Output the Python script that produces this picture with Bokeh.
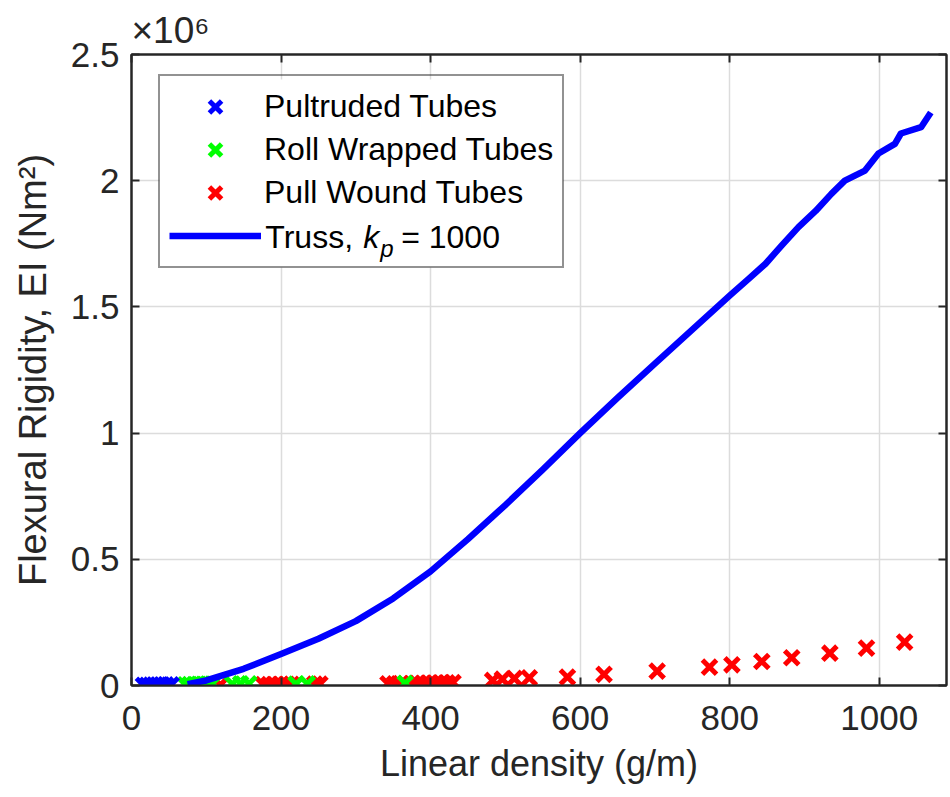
import numpy as np
from bokeh.plotting import figure
from bokeh.models import (Range1d, LinearAxis, Label, Legend, LegendItem, Title,
                          BoxAnnotation, FixedTicker, CustomJSTickFormatter,
                          CustomLabelingPolicy)
from bokeh.embed import file_html
from bokeh.resources import INLINE

# ---------------- data (EI in units of 1e6 N m^2) ----------------
pultruded_x = [16, 21, 26, 31, 36, 41, 46, 53]
pultruded_EI = [0.0008, 0.001, 0.0012, 0.0014, 0.0016, 0.0019, 0.0022, 0.0026]

rollwrap_x = [72, 78, 84, 90, 96, 102, 108, 135, 146, 157, 220, 235, 366]
rollwrap_EI = [0.003, 0.0035, 0.004, 0.0045, 0.005, 0.0055, 0.006, 0.006,
               0.0065, 0.007, 0.006, 0.007, 0.009]

pullwound_x = [119, 176, 184, 192, 200, 208, 214, 245, 252, 343, 352, 360, 375,
               382, 390, 398, 406, 414, 422, 430, 483, 496, 512, 532, 583, 632,
               703, 773, 803, 843, 883, 934, 983, 1034]
pullwound_EI = [0.003, 0.004, 0.004, 0.004, 0.005, 0.005, 0.005, 0.006, 0.006,
                0.007, 0.007, 0.008, 0.008, 0.009, 0.009, 0.01, 0.01, 0.011,
                0.011, 0.012, 0.02, 0.025, 0.028, 0.03, 0.033, 0.044, 0.057,
                0.073, 0.082, 0.095, 0.11, 0.128, 0.148, 0.172]

truss_x = [75, 100, 150, 200, 250, 300, 350, 400, 450, 500, 550, 600, 650, 700,
           750, 800, 825, 848, 870, 892, 915, 936, 954, 981, 999, 1021, 1029,
           1056, 1069]
truss_EI = [0.005, 0.02, 0.066, 0.125, 0.185, 0.255, 0.345, 0.452, 0.58, 0.715,
            0.855, 1.0, 1.14, 1.275, 1.41, 1.545, 1.61, 1.671, 1.745, 1.816,
            1.88, 1.948, 2.0, 2.04, 2.108, 2.146, 2.187, 2.212, 2.27]

x_ticks = [0, 200, 400, 600, 800, 1000]
y_ticks = [0, 0.5, 1, 1.5, 2, 2.5]

# ---------------- layout ----------------
W, H = 950, 797
FL, FR, FT, FB = 131, 947, 54, 685
X0, X1, Y0, Y1 = 0, 1090, 0, 2.5
FONT = "Liberation Sans"
DARK = "#262626"


def px2x(px):
    return X0 + (px - FL) * (X1 - X0) / (FR - FL)


def py2y(py):
    return Y0 + (FB - py) * (Y1 - Y0) / (FB - FT)


p = figure(width=W, height=H, x_range=Range1d(X0, X1), y_range=Range1d(Y0, Y1),
           output_backend="svg", toolbar_location=None, title=None,
           min_border_left=FL, min_border_right=W - FR,
           min_border_top=FT, min_border_bottom=H - FB)
p.background_fill_color = "white"
p.outline_line_color = DARK
p.outline_line_width = 2

for ax in (p.xaxis[0], p.yaxis[0]):
    ax.axis_line_color = DARK
    ax.axis_line_width = 2
    ax.major_tick_line_color = DARK
    ax.major_tick_line_width = 2
    ax.major_tick_in = 8
    ax.major_tick_out = 0
    ax.minor_tick_line_color = None
    ax.major_label_text_font = FONT
    ax.major_label_text_font_size = "35px"
    ax.major_label_text_color = DARK
    ax.axis_label_text_font = FONT
    ax.axis_label_text_font_style = "normal"
    ax.axis_label_text_color = DARK

p.xaxis[0].ticker = FixedTicker(ticks=x_ticks)
p.yaxis[0].ticker = FixedTicker(ticks=y_ticks)
p.yaxis[0].formatter = CustomJSTickFormatter(code="return tick.toString();")
p.xaxis[0].major_label_standoff = 20
p.yaxis[0].major_label_standoff = 12

p.xaxis[0].axis_label = "Linear density (g/m)"
p.xaxis[0].axis_label_text_font_size = "36px"
p.xaxis[0].axis_label_standoff = 10

p.yaxis[0].axis_label = "Flexural Rigidity, EI (Nm\u00b2)"
p.yaxis[0].axis_label_text_font_size = "38px"
p.yaxis[0].axis_label_standoff = 14

# box ticks on top / right (no labels)
for loc, tk in (("above", x_ticks), ("right", y_ticks)):
    a = LinearAxis(ticker=FixedTicker(ticks=tk), major_label_text_font_size="1px",
                   major_label_policy=CustomLabelingPolicy(code="return new Set()"),
                   major_label_standoff=0, major_tick_in=8, major_tick_out=0,
                   minor_tick_line_color=None, axis_line_color=DARK,
                   axis_line_width=2, major_tick_line_color=DARK,
                   major_tick_line_width=2)
    p.add_layout(a, loc)

# multiplier above the plot
p.add_layout(Title(text="\u00d710\u2076", align="left", text_font=FONT,
                   text_font_size="37px", text_font_style="normal",
                   text_color=DARK, standoff=0, offset=0), "above")

p.xgrid.ticker = FixedTicker(ticks=x_ticks)
p.ygrid.ticker = FixedTicker(ticks=y_ticks)
p.grid.grid_line_color = "#dcdcdc"
p.grid.grid_line_width = 1.5

# legend geometry (screen px)
LG_L, LG_T, LG_PAD, LG_ROW = 158, 78, 9, 43
LG_H = 4 * LG_ROW + 2 * LG_PAD
LG_B = LG_T + LG_H

# white panel under the (transparent) legend to hide grid lines
p.add_layout(BoxAnnotation(left=px2x(LG_L + 1), right=px2x(563), top=py2y(LG_T + 1),
                           bottom=py2y(LG_B - 1), fill_color="white", fill_alpha=1.0,
                           line_color=None, level="underlay"))

# ---------------- marks ----------------
MS, MW = 20, 5
r_red = p.scatter(pullwound_x, pullwound_EI, marker="x", size=MS, line_width=MW,
                  color="#ff0000")
r_green = p.scatter(rollwrap_x, rollwrap_EI, marker="x", size=MS, line_width=MW,
                    color="#00ff00")
r_blue = p.scatter(pultruded_x, pultruded_EI, marker="x", size=MS, line_width=MW,
                   color="#0000ff")
r_truss = p.line(truss_x, truss_EI, line_width=6.5, color="#0000ff",
                 line_join="round")

legend = Legend(items=[LegendItem(label="Pultruded Tubes", renderers=[r_blue]),
                       LegendItem(label="Roll Wrapped Tubes", renderers=[r_green]),
                       LegendItem(label="Pull Wound Tubes", renderers=[r_red]),
                       LegendItem(label=" ", renderers=[r_truss])],
                location=(LG_L - FL, FB - LG_B),
                label_text_font=FONT, label_text_font_size="32px",
                label_text_color="black", glyph_width=92, glyph_height=LG_ROW,
                label_standoff=3, padding=LG_PAD, spacing=0, margin=0,
                border_line_color=DARK, border_line_width=2,
                background_fill_color="white", background_fill_alpha=0.0)
p.add_layout(legend)

# 4th legend label with italic k and subscript p
row4 = LG_T + LG_PAD + 3 * LG_ROW + LG_ROW / 2
base = row4 - 1   # baseline placement (empirically corrected)
lab_kw = dict(x_units="data", y_units="data", text_font=FONT, text_color="black",
              text_baseline="alphabetic", text_align="left", level="overlay")
p.add_layout(Label(x=px2x(265), y=py2y(base), text="Truss,", text_font_size="32px", **lab_kw))
p.add_layout(Label(x=px2x(363), y=py2y(base), text="k", text_font_size="32px",
                   text_font_style="italic", **lab_kw))
p.add_layout(Label(x=px2x(380), y=py2y(base + 11), text="p", text_font_size="24px",
                   text_font_style="italic", **lab_kw))
p.add_layout(Label(x=px2x(401), y=py2y(base), text="= 1000", text_font_size="32px", **lab_kw))

open("out.html", "w").write(file_html(p, INLINE))
